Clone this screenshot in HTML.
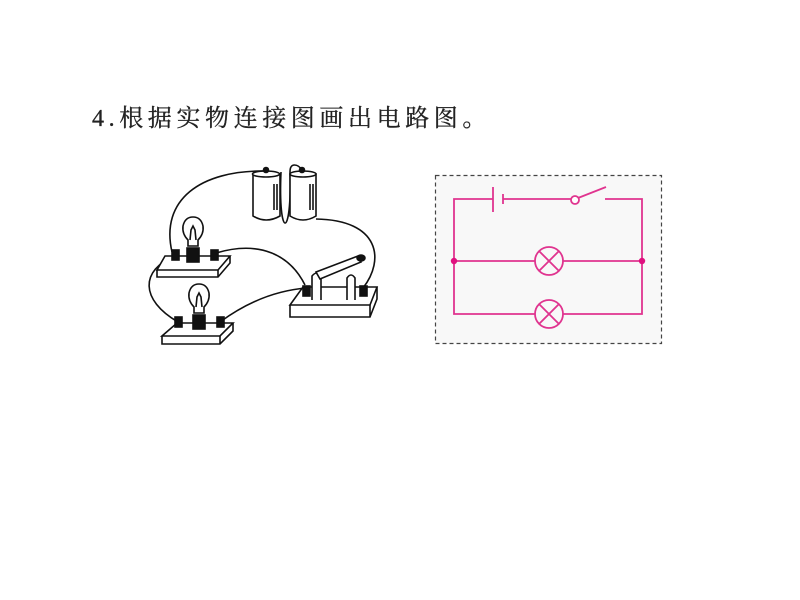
<!DOCTYPE html>
<html><head><meta charset="utf-8"><style>
body{margin:0;background:#fff;width:800px;height:600px;overflow:hidden;}
.t{position:absolute;left:92px;top:98px;font-family:"Liberation Serif","Noto Serif CJK SC",serif;font-size:24px;letter-spacing:4.6px;color:#222;white-space:nowrap;-webkit-text-stroke:0.3px #222;}
</style></head><body>
<div class="t">4.根据实物连接图画出电路图。</div>
<svg width="800" height="600" style="position:absolute;left:0;top:0" fill="none" stroke="#111" stroke-width="1.6">
<!-- wires -->
<path d="M266 171 C200 170 160 200 172 252"/>
<path d="M175 256 C140 270 140 300 178 322"/>
<path d="M216 253 C260 240 290 255 305 285"/>
<path d="M220 322 C250 300 280 290 307 288"/>
<path d="M316 219 C380 220 385 260 363 288"/>
<path d="M281 172 C278 240 292 240 290 172 C290 162 298 164 302 170"/>
<!-- batteries -->
<g fill="#fff">
<path d="M253 174 L253 216 Q266 224 280 216 L280 174 Z"/>
<ellipse cx="266" cy="174" rx="13.5" ry="3"/>
<path d="M290 174 L290 216 Q303 224 316 216 L316 174 Z"/>
<ellipse cx="303" cy="174" rx="13" ry="3"/>
</g>
<line x1="274" y1="184" x2="274" y2="210"/><line x1="277" y1="184" x2="277" y2="210"/>
<line x1="310" y1="184" x2="310" y2="210"/><line x1="313" y1="184" x2="313" y2="210"/>
<circle cx="266" cy="170" r="2.5" fill="#111"/><circle cx="302" cy="170" r="2.5" fill="#111"/>
<!-- lamp1 board -->
<path d="M165 256 L230 256 L218 270 L157 270 Z" fill="#fff"/>
<path d="M157 270 L157 277 L218 277 L230 263 L230 256 M218 270 L218 277"/>
<rect x="187" y="248" width="12" height="14" fill="#111"/>
<path d="M188 246 L188 240 Q182 234 183 226 Q185 217 193 217 Q201 217 203 226 Q204 234 198 240 L198 246 Z" fill="#fff"/>
<path d="M190 240 L191 230 L193 226 L195 230 L196 240"/>
<rect x="172" y="250" width="7" height="10" fill="#111"/><rect x="211" y="250" width="7" height="10" fill="#111"/>
<!-- lamp2 board -->
<path d="M177 323 L233 323 L220 336 L162 336 Z" fill="#fff"/>
<path d="M162 336 L162 344 L220 344 L233 331 L233 323 M220 336 L220 344"/>
<rect x="193" y="315" width="12" height="14" fill="#111"/>
<path d="M194 313 L194 307 Q188 301 189 293 Q191 284 199 284 Q207 284 209 293 Q210 301 204 307 L204 313 Z" fill="#fff"/>
<path d="M196 307 L197 297 L199 293 L201 297 L202 307"/>
<rect x="175" y="317" width="7" height="10" fill="#111"/><rect x="217" y="317" width="7" height="10" fill="#111"/>
<!-- switch board -->
<path d="M303 287 L377 287 L370 305 L290 305 Z" fill="#fff"/>
<path d="M290 305 L290 317 L370 317 L377 299 L377 287 M370 305 L370 317"/>
<path d="M312 300 L312 276 Q317 270 321 276 L321 300" fill="#fff"/>
<path d="M347 300 L347 278 Q351 272 355 278 L355 300" fill="#fff"/>
<path d="M316 272 L358 256 L361 262 L320 279 Z" fill="#fff"/>
<ellipse cx="361" cy="258" rx="4" ry="3" fill="#111"/>
<rect x="303" y="286" width="7" height="10" fill="#111"/><rect x="360" y="286" width="7" height="10" fill="#111"/>
</svg>
<svg width="800" height="600" style="position:absolute;left:0;top:0" fill="none">
<rect x="435.5" y="175.5" width="226" height="168" fill="#f8f8f8" stroke="#444" stroke-width="1.2" stroke-dasharray="4,3"/>
<g stroke="#e0348f" stroke-width="1.8">
<path d="M493 199 L454 199 L454 314 L535 314 M563 314 L642 314 L642 199 L605 199"/>
<line x1="493" y1="187" x2="493" y2="212"/>
<line x1="503" y1="194" x2="503" y2="204"/>
<line x1="503" y1="199" x2="571" y2="199"/>
<circle cx="575" cy="200" r="4" fill="#fff"/>
<line x1="578" y1="198" x2="606" y2="187"/>
<path d="M454 261 L535 261 M563 261 L642 261"/>
<circle cx="549" cy="261" r="14"/><path d="M539 251 L559 271 M559 251 L539 271"/>
<circle cx="549" cy="314" r="14"/><path d="M539 304 L559 324 M559 304 L539 324"/>
</g>
<circle cx="454" cy="261" r="3.2" fill="#e0107f"/><circle cx="642" cy="261" r="3.2" fill="#e0107f"/>
</svg>
</body></html>
